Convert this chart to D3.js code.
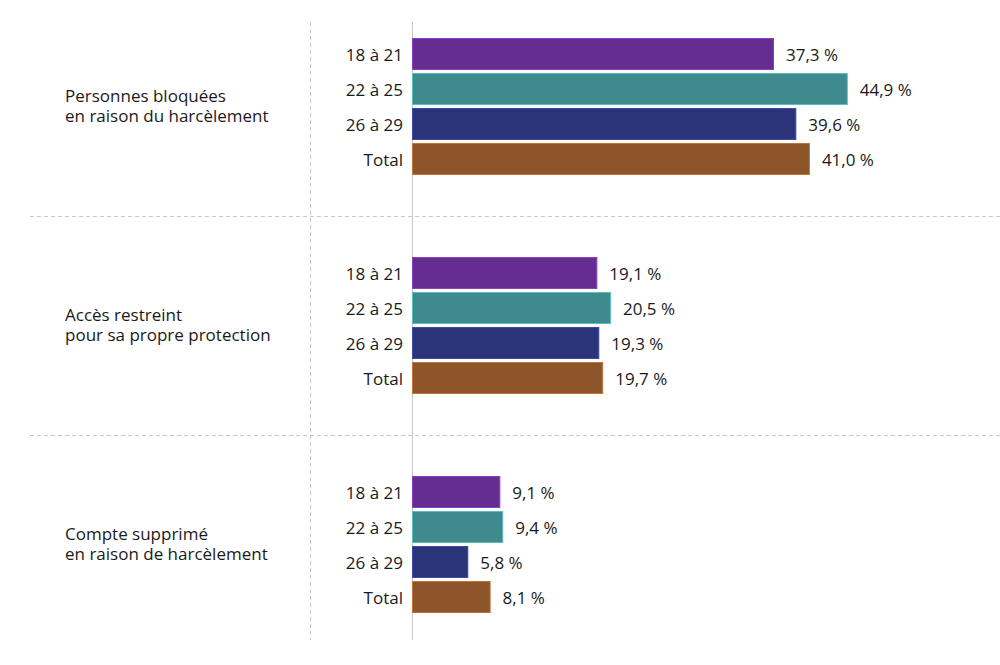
<!DOCTYPE html>
<html>
<head>
<meta charset="utf-8">
<script src="https://cdn.jsdelivr.net/npm/d3@7"></script>
<style>
  html, body { margin: 0; padding: 0; background: #ffffff; }
  svg { display: block; font-family: "Open Sans", "Noto Sans", sans-serif; }
</style>
</head>
<body>
<svg id="chart" width="1000" height="665"></svg>
<script>
const groups = ["Personnes bloquées\nen raison du harcèlement",
                "Accès restreint\npour sa propre protection",
                "Compte supprimé\nen raison de harcèlement"];
const ageGroups = ["18 à 21", "22 à 25", "26 à 29", "Total"];
const values = [
  [37.3, 44.9, 39.6, 41.0],
  [19.1, 20.5, 19.3, 19.7],
  [9.1, 9.4, 5.8, 8.1]
];
const colors = ["#662d91", "#3f8a8c", "#2c3479", "#8c552a"];

const svg = d3.select("#chart");

const x = d3.scaleLinear().domain([0, 60]).range([412, 994.3]);
const yOuter = d3.scaleBand().domain(d3.range(groups.length)).range([38, 613]).paddingInner(82 / 219).paddingOuter(0);
const yInner = d3.scaleBand().domain(ageGroups).range([0, yOuter.bandwidth()]).paddingInner(3 / 35).paddingOuter(0);
const color = d3.scaleOrdinal().domain(ageGroups).range(colors);

const fmt = v => v.toFixed(1).replace(".", ",") + "\u00a0%";

// separators between groups
for (let i = 1; i < groups.length; i++) {
  const yy = Math.round((yOuter(i - 1) + yOuter.bandwidth() + yOuter(i)) / 2) + 0.5;
  svg.append("line")
    .attr("x1", 30).attr("x2", 1000).attr("y1", yy).attr("y2", yy)
    .attr("stroke", "#c8c8c8").attr("stroke-width", 1).attr("stroke-dasharray", "4,3");
}
// vertical dashed line
svg.append("line")
  .attr("x1", 310.5).attr("x2", 310.5).attr("y1", 22).attr("y2", 640)
  .attr("stroke", "#c8c8c8").attr("stroke-width", 1).attr("stroke-dasharray", "4,3");
// zero axis line
svg.append("line")
  .attr("x1", x(0) + 0.5).attr("x2", x(0) + 0.5).attr("y1", 22).attr("y2", 640)
  .attr("stroke", "#c8c8c8").attr("stroke-width", 1);

const g = svg.selectAll("g.group").data(groups).join("g")
  .attr("class", "group")
  .attr("transform", (d, i) => `translate(0,${yOuter(i)})`);

// group labels
g.each(function (d, i) {
  const lines = d.split("\n");
  const cy = yOuter.bandwidth() / 2;
  const t = d3.select(this).append("text")
    .attr("x", 65).attr("font-size", 17).attr("fill", "#1a1a1a");
  lines.forEach((ln, k) => {
    t.append("tspan").attr("x", 65)
      .attr("y", cy + (k - (lines.length - 1) / 2) * 20)
      .attr("dy", "0.35em").text(ln);
  });
});

g.each(function (d, i) {
  const sel = d3.select(this);
  const rows = ageGroups.map((a, j) => ({ age: a, v: values[i][j] }));
  sel.selectAll("rect").data(rows).join("rect")
    .attr("x", x(0) + 0.5)
    .attr("y", r => yInner(r.age) + 0.5)
    .attr("width", r => x(r.v) - x(0) - 1)
    .attr("height", yInner.bandwidth() - 1)
    .attr("fill", r => color(r.age))
    .attr("stroke", r => d3.color(color(r.age)).brighter(0.9))
    .attr("stroke-width", 1);
  sel.selectAll("text.cat").data(rows).join("text")
    .attr("class", "cat")
    .attr("x", 403)
    .attr("y", r => yInner(r.age) + yInner.bandwidth() / 2)
    .attr("dy", "0.4em")
    .attr("text-anchor", "end")
    .attr("font-size", 17).attr("fill", "#1a1a1a")
    .text(r => r.age);
  sel.selectAll("text.val").data(rows).join("text")
    .attr("class", "val")
    .attr("x", r => x(r.v) + 12)
    .attr("y", r => yInner(r.age) + yInner.bandwidth() / 2)
    .attr("dy", "0.4em")
    .attr("font-size", 17).attr("fill", "#1a1a1a")
    .text(r => fmt(r.v));
});
</script>
</body>
</html>
